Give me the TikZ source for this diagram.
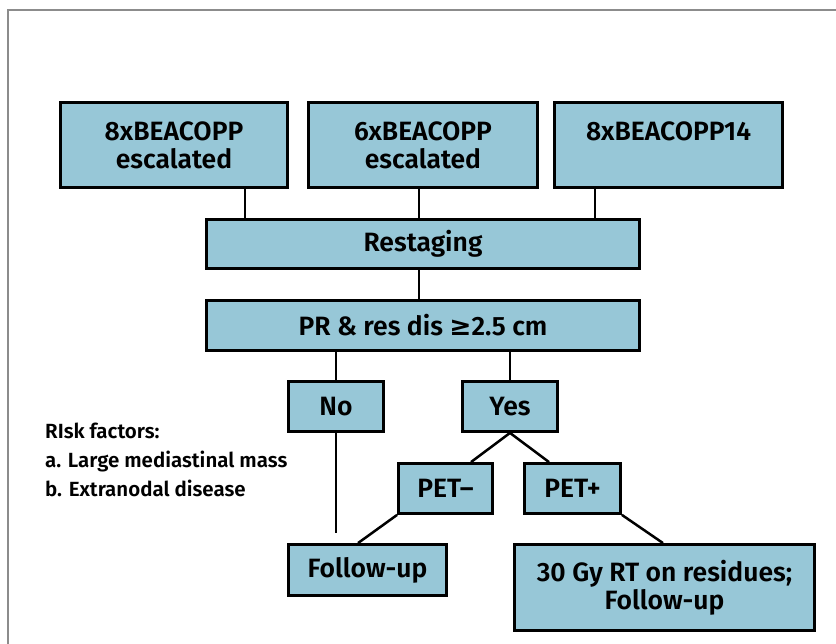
\documentclass[tikz,border=0pt]{standalone}
\usepackage{fontspec}
\setmainfont{Fira Sans}[BoldFont={Fira Sans SemiBold}]
\newfontfamily\symfont{DejaVu Sans}
\usepackage{tikz}
\usetikzlibrary{positioning}
\definecolor{BBlue}{HTML}{97C7D7}
\definecolor{BFrame}{HTML}{8C8C8C}

\begin{document}
\begin{tikzpicture}[x=1pt,y=-1pt,
  b/.style={draw=black,line width=2.8pt,fill=BBlue,align=center,inner sep=0pt,
    font=\fontsize{26.5}{28}\selectfont\bfseries},
  l/.style={line width=2.5pt}
]
  \useasboundingbox (0,0) rectangle (836,644);
  \draw[BFrame,line width=1.5pt] (8,644) -- (8,10) -- (836,10);
  % regimens
  \node[b,minimum width=227pt,minimum height=85pt] (esc8) at (174,145) {8xBEACOPP\\escalated};
  \node[b,minimum width=229pt,minimum height=85pt] (esc6) at (423,145) {6xBEACOPP\\escalated};
  \node[b,minimum width=228pt,minimum height=85pt] (b14) at (668.5,145) {8xBEACOPP14\\\phantom{escalated}};
  \node[b,minimum width=433pt,minimum height=49pt] (restage) at (423,244) {Restaging};
  \node[b,minimum width=433pt,minimum height=50pt] (resdis) at (423,325.5) {PR \& res dis {\symfont\bfseries ≥}2.5 cm};
  \node[b,minimum width=95pt,minimum height=50pt] (no) at (336,406.5) {No};
  \node[b,minimum width=95pt,minimum height=50pt] (yes) at (510,406.5) {Yes};
  \node[b,minimum width=94pt,minimum height=50pt] (petneg) at (445.5,488.5) {PET–};
  \node[b,minimum width=96pt,minimum height=50pt] (petpos) at (572.5,488.5) {PET+};
  \node[b,minimum width=158pt,minimum height=51pt] (fup) at (367.5,570) {Follow-up};
  \node[b,minimum width=300pt,minimum height=86pt] (rt) at (664.5,587.5) {30 Gy RT on residues;\\Follow-up};
  \coordinate (noend) at (336,533);
  \node[anchor=north west,align=left,inner sep=0pt,
    font=\fontsize{20.5}{29}\selectfont\bfseries] (risk) at (45,423)
    {RIsk factors:\\a. Large mediastinal mass\\b. Extranodal disease};
  % connectors
  \draw[l] (esc8.south -| 245,0) -- (restage.north -| 245,0);
  \draw[l] (esc6.south -| 419,0) -- (restage.north -| 419,0);
  \draw[l] (b14.south -| 595,0) -- (restage.north -| 595,0);
  \draw[l] (restage.south -| 419,0) -- (resdis.north -| 419,0);
  \draw[l] (resdis.south -| no.north) -- (no.north);
  \draw[l] (resdis.south -| yes.north) -- (yes.north);
  \draw[l] (no.south) -- (noend);
  \draw[l] (yes.south) -- (petneg.north -| 471,0);
  \draw[l] (yes.south) -- (petpos.north -| 549,0);
  \draw[l] (petneg.south west) -- (fup.north -| 358,0);
  \draw[l] (petpos.south east) -- (rt.north -| 663,0);
\end{tikzpicture}
\end{document}
